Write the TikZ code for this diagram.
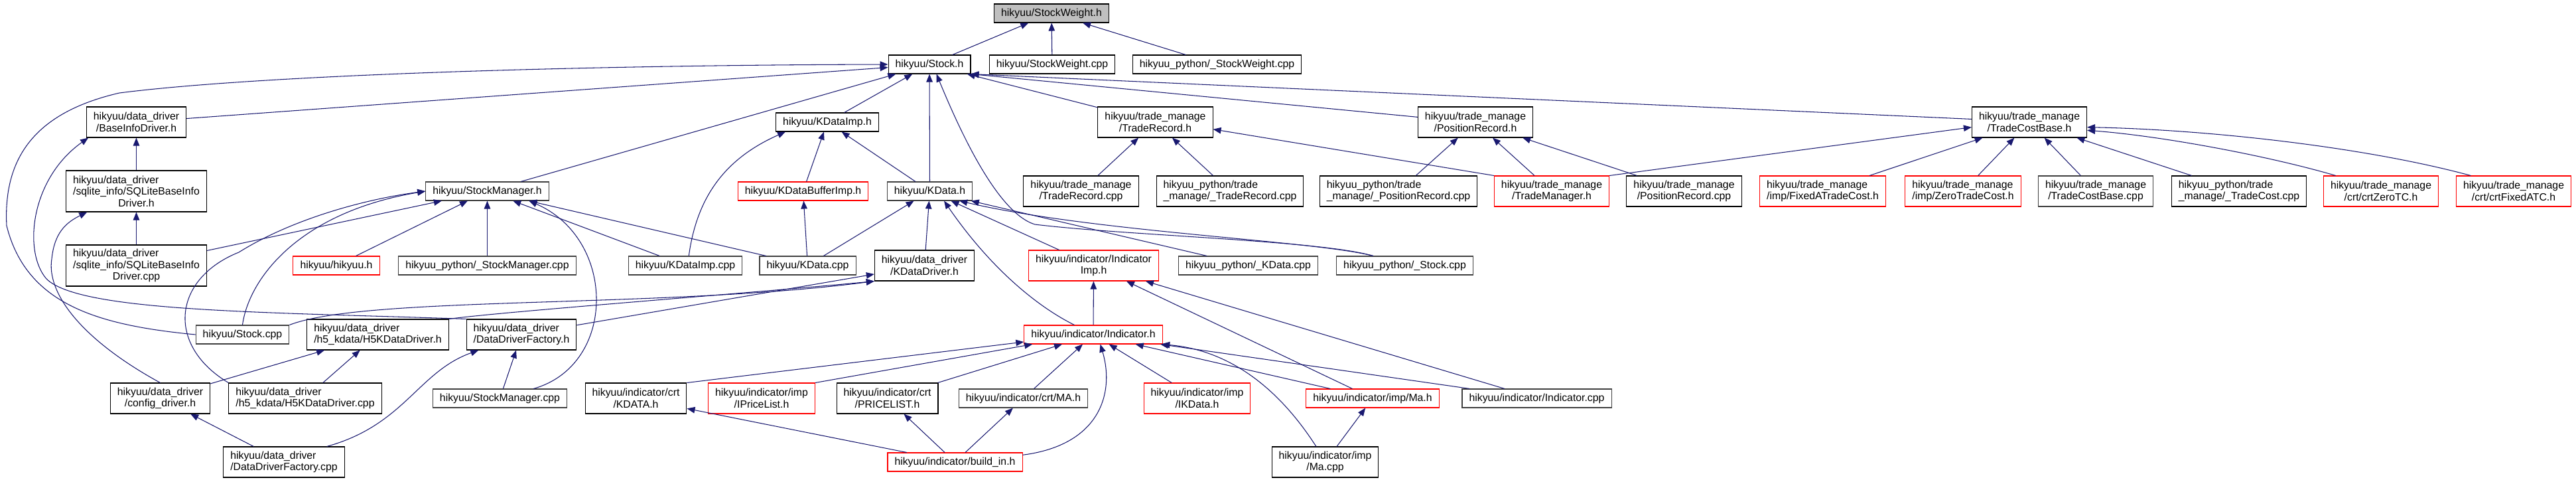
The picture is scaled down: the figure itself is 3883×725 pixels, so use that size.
\documentclass[tikz,border=0pt]{standalone}
\usepackage{fontspec}
\setmainfont{Liberation Sans}
\usepackage{tikz}
\usetikzlibrary{arrows.meta,positioning}
\definecolor{edgeblue}{HTML}{191970}
\definecolor{rootfill}{HTML}{BFBFBF}
\definecolor{nodocred}{HTML}{FF0000}

\begin{document}
\begin{tikzpicture}[
  x=0.02cm, y=-0.02cm,
  font=\fontsize{9}{10}\selectfont,
  every node/.style={align=center},
  hfile/.style={draw=black,line width=0.6pt,fill=white,
               inner xsep=6pt,inner ysep=1pt,minimum height=0.56cm},
  greyfile/.style={hfile,draw=black!75},
  nodoc/.style={hfile,draw=nodocred},
  root/.style={hfile,fill=rootfill},
  two/.style={minimum height=0.92cm},
  three/.style={minimum height=1.24cm},
  lft/.style={align=left},
  inc/.style={-{Triangle[length=2.4mm,width=1.9mm]},line width=0.6pt,edgeblue}
]
\useasboundingbox (0,0) rectangle (3883,725);

% TOP: the header and its direct users
\node[root] (sw) at (1585,20) {hikyuu/StockWeight.h};
\node[hfile] (sh)   at (1401,97)  {hikyuu/Stock.h};
\node[hfile] (swc)  at (1586,97)  {hikyuu/StockWeight.cpp};
\node[hfile] (pysw) at (1834.5,97) {hikyuu\_python/\_StockWeight.cpp};

% second row
\node[hfile,two] (bid)  at (205.5,184) {hikyuu/data\_driver\\/BaseInfoDriver.h};
\node[hfile]     (kdih) at (1247,184)  {hikyuu/KDataImp.h};
\node[hfile,two] (trh)  at (1741.5,184) {hikyuu/trade\_manage\\/TradeRecord.h};
\node[hfile,two] (prh)  at (2224,184)  {hikyuu/trade\_manage\\/PositionRecord.h};
\node[hfile,two] (tcbh) at (3059,184)  {hikyuu/trade\_manage\\/TradeCostBase.h};

% third row
\node[hfile,three] (sqh) at (205.5,288)
  {\rlap{hikyuu/data\_driver}\phantom{/sqlite\_info/SQLiteBaseInfo}\\/sqlite\_info/SQLiteBaseInfo\\Driver.h};
\node[greyfile] (smh)  at (734.5,288)  {hikyuu/StockManager.h};
\node[nodoc]    (kdbi) at (1210.5,288) {hikyuu/KDataBufferImp.h};
\node[greyfile] (kdh)  at (1401.5,288) {hikyuu/KData.h};
\node[hfile,two]     (trc)  at (1629.5,288) {hikyuu/trade\_manage\\/TradeRecord.cpp};
\node[hfile,two,lft] (pytr) at (1854,288)   {hikyuu\_python/trade\\\_manage/\_TradeRecord.cpp};
\node[hfile,two,lft] (pypr) at (2108,288)   {hikyuu\_python/trade\\\_manage/\_PositionRecord.cpp};
\node[nodoc,two]     (tmh)  at (2339,288)   {hikyuu/trade\_manage\\/TradeManager.h};
\node[hfile,two]     (prc)  at (2538.5,288) {hikyuu/trade\_manage\\/PositionRecord.cpp};
\node[nodoc,two,lft] (fatc) at (2747.5,288) {hikyuu/trade\_manage\\/imp/FixedATradeCost.h};
\node[nodoc,two,lft] (ztc)  at (2959,288)   {hikyuu/trade\_manage\\/imp/ZeroTradeCost.h};
\node[greyfile,two]  (tcbc) at (3159,288)   {hikyuu/trade\_manage\\/TradeCostBase.cpp};
\node[hfile,two,lft] (pytc) at (3375,288)   {hikyuu\_python/trade\\\_manage/\_TradeCost.cpp};
\node[nodoc,two]     (czt)  at (3589,288)   {hikyuu/trade\_manage\\/crt/crtZeroTC.h};
\node[nodoc,two]     (cfa)  at (3789,288)   {hikyuu/trade\_manage\\/crt/crtFixedATC.h};

% fourth row
\node[hfile,three] (sqc) at (205.5,400)
  {\rlap{hikyuu/data\_driver}\phantom{/sqlite\_info/SQLiteBaseInfo}\\/sqlite\_info/SQLiteBaseInfo\\Driver.cpp};
\node[nodoc]     (hik)    at (507,400)    {hikyuu/hikyuu.h};
\node[greyfile]  (pysm)   at (734.5,400)  {hikyuu\_python/\_StockManager.cpp};
\node[greyfile]  (kdic)   at (1033,400)   {hikyuu/KDataImp.cpp};
\node[greyfile]  (kdc)    at (1217.5,400) {hikyuu/KData.cpp};
\node[hfile,two] (kdd)    at (1393.5,400) {hikyuu/data\_driver\\/KDataDriver.h};
\node[nodoc,two] (indimp) at (1648.5,400) {hikyuu/indicator/Indicator\\Imp.h};
\node[greyfile]  (pykd)   at (1881.5,400) {hikyuu\_python/\_KData.cpp};
\node[greyfile]  (pyst)   at (2117.5,400) {hikyuu\_python/\_Stock.cpp};

% fifth row
\node[greyfile]      (stcpp) at (365.5,504) {hikyuu/Stock.cpp};
\node[hfile,two,lft] (h5h)   at (569.5,504) {hikyuu/data\_driver\\/h5\_kdata/H5KDataDriver.h};
\node[hfile,two,lft] (ddfh)  at (786,504)   {hikyuu/data\_driver\\/DataDriverFactory.h};
\node[nodoc]         (indh)  at (1648,504)  {hikyuu/indicator/Indicator.h};

% sixth row
\node[hfile,two]     (cfg)   at (241.5,600)  {hikyuu/data\_driver\\/config\_driver.h};
\node[hfile,two,lft] (h5c)   at (460,600)    {hikyuu/data\_driver\\/h5\_kdata/H5KDataDriver.cpp};
\node[greyfile]      (smc)   at (753.5,600)  {hikyuu/StockManager.cpp};
\node[hfile,two]     (kdata) at (958.5,600)  {hikyuu/indicator/crt\\/KDATA.h};
\node[nodoc,two]     (ipl)   at (1148,600)   {hikyuu/indicator/imp\\/IPriceList.h};
\node[hfile,two]     (pl)    at (1337.5,600) {hikyuu/indicator/crt\\/PRICELIST.h};
\node[greyfile]      (mah)   at (1542.5,600) {hikyuu/indicator/crt/MA.h};
\node[nodoc,two]     (ikd)   at (1804.5,600) {hikyuu/indicator/imp\\/IKData.h};
\node[nodoc]         (imah)  at (2069,600)   {hikyuu/indicator/imp/Ma.h};
\node[greyfile]      (indc)  at (2316.5,600) {hikyuu/indicator/Indicator.cpp};

% bottom row
\node[hfile,two,lft] (ddfc) at (428,696)    {hikyuu/data\_driver\\/DataDriverFactory.cpp};
\node[nodoc]         (bin)  at (1439.5,696) {hikyuu/indicator/build\_in.h};
\node[hfile,two]     (imac) at (1997.5,696) {hikyuu/indicator/imp\\/Ma.cpp};

% includes of StockWeight.h
\draw[inc] (sh) -- (sw);
\draw[inc] (swc) -- (sw);
\draw[inc] (pysw) -- (sw);

% includes of Stock.h
\draw[inc] (bid) -- (sh);
\draw[inc] (stcpp.west) .. controls (150,490) and (40,460) .. (10,340)
  .. controls (5,240) and (50,170) .. (180,140)
  .. controls (400,112) and (900,98) .. (sh.west);
\draw[inc] (smh) -- (sh);
\draw[inc] (kdih) -- (sh);
\draw[inc] (kdh) -- (sh);
\draw[inc] (pyst.163) .. controls (1990,362) and (1700,355) .. (1560,338)
  .. controls (1500,320) and (1440,180) .. (sh.-54);
\draw[inc] (trh) -- (sh);
\draw[inc] (prh.175) -- (sh.south east);
\draw[inc] (tcbh.177) -- (sh.south east);

% data drivers
\draw[inc] (sqh) -- (bid);
\draw[inc] (ddfh.north west) .. controls (400,470) and (120,470) .. (70,420)
  .. controls (35,380) and (45,270) .. (bid.-162);
\draw[inc] (sqc) -- (sqh);
\draw[inc] (cfg.north) .. controls (120,510) and (70,440) .. (78,390)
  .. controls (82,350) and (100,335) .. (sqh.-157);
\draw[inc] (stcpp.north east) .. controls (550,445) and (1000,465) .. (kdd.south west);
\draw[inc] (h5h.north east) .. controls (750,470) and (1150,440) .. (kdd.south west);
\draw[inc] (ddfh) -- (kdd);
\draw[inc] (cfg) -- (h5h);
\draw[inc] (h5c) -- (h5h);
\draw[inc] (ddfc) -- (cfg);
\draw[inc] (smc) -- (ddfh);
\draw[inc] (ddfc.20) .. controls (610,640) and (630,560) .. (ddfh.-160);

% includes of StockManager.h
\draw[inc] (sqc) -- (smh);
\draw[inc] (stcpp.north) .. controls (375,420) and (450,320) .. (smh.west);
\draw[inc] (h5c.north west) .. controls (250,520) and (260,420) .. (360,380)
  .. controls (440,330) and (550,300) .. (smh.west);
\draw[inc] (hik) -- (smh);
\draw[inc] (pysm) -- (smh);
\draw[inc] (kdic) -- (smh);
\draw[inc] (kdc) -- (smh);
\draw[inc] (smc.16) .. controls (930,550) and (930,360) .. (smh.-13);

% KData side
\draw[inc] (kdc) -- (kdh);
\draw[inc] (kdd) -- (kdh);
\draw[inc] (indh.153) .. controls (1560,460) and (1490,400) .. (kdh.-34);
\draw[inc] (indimp) -- (kdh);
\draw[inc] (pykd) -- (kdh);
\draw[inc] (pyst.163) .. controls (1980,362) and (1650,350) .. (kdh.-18);
\draw[inc] (kdbi) -- (kdih);
\draw[inc] (kdic.70) .. controls (1050,300) and (1090,240) .. (kdih.-167);
\draw[inc] (kdh) -- (kdih);
\draw[inc] (kdc) -- (kdbi);

% indicators
\draw[inc] (kdata.north east) -- (indh.-174);
\draw[inc] (ipl.north east) -- (indh.-171);
\draw[inc] (pl) -- (indh);
\draw[inc] (mah) -- (indh);
\draw[inc] (bin.6) .. controls (1660,670) and (1680,590) .. (indh.-54);
\draw[inc] (ikd) -- (indh);
\draw[inc] (imah) -- (indh);
\draw[inc] (imac.120) .. controls (1950,620) and (1880,530) .. (indh.-8);
\draw[inc] (indc) -- (indh);
\draw[inc] (indh) -- (indimp);
\draw[inc] (imah) -- (indimp);
\draw[inc] (indc) -- (indimp);
\draw[inc] (bin) -- (pl);
\draw[inc] (bin) -- (mah);
\draw[inc] (bin) -- (kdata);
\draw[inc] (imac) -- (imah);

% trade manage
\draw[inc] (trc) -- (trh);
\draw[inc] (pytr) -- (trh);
\draw[inc] (tmh.north west) -- (trh.-7);
\draw[inc] (pypr) -- (prh);
\draw[inc] (tmh) -- (prh);
\draw[inc] (prc) -- (prh);
\draw[inc] (tmh.north east) -- (tcbh.-175);
\draw[inc] (fatc) -- (tcbh);
\draw[inc] (ztc) -- (tcbh);
\draw[inc] (tcbc) -- (tcbh);
\draw[inc] (pytc) -- (tcbh);
\draw[inc] (czt.161) .. controls (3420,235) and (3260,205) .. (tcbh.-8);
\draw[inc] (cfa.160) .. controls (3560,220) and (3320,195) .. (tcbh.-5);
\end{tikzpicture}
\end{document}
